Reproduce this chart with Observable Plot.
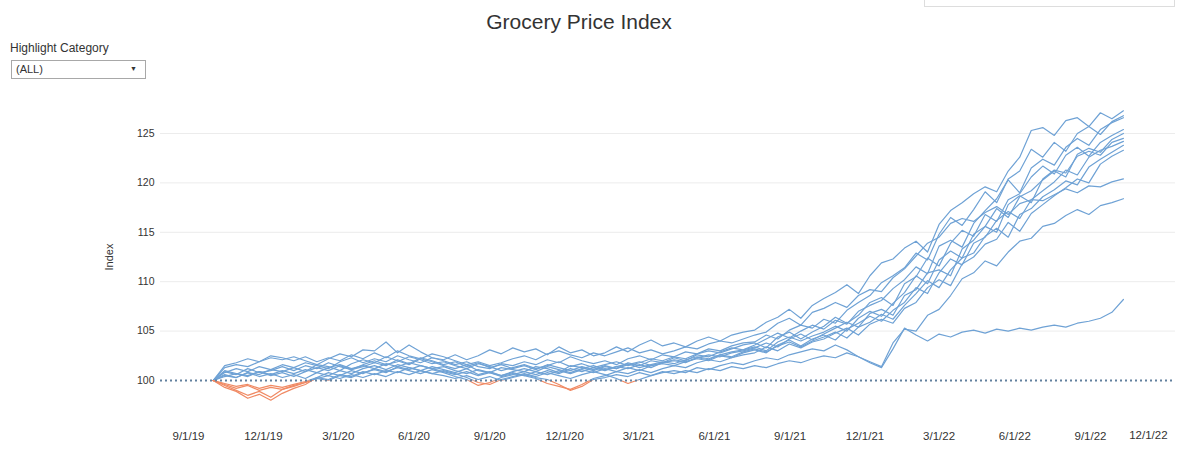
<!DOCTYPE html>
<html>
<head>
<meta charset="utf-8">
<script src="https://cdn.jsdelivr.net/npm/d3@7"></script>
<script src="https://cdn.jsdelivr.net/npm/@observablehq/plot@0.6"></script>
<style>
body{margin:0;background:#fff;font-family:"Liberation Sans",Arial,sans-serif;color:#333;width:1195px;height:459px;overflow:hidden;position:relative}
#title{position:absolute;left:579px;top:10px;transform:translateX(-50%);font-size:21px;color:#333;white-space:nowrap}
#topbox{position:absolute;left:924px;top:-2px;width:249px;height:7px;border:1px solid #ddd}
#hl{position:absolute;left:10px;top:41px;font-size:12px;color:#333}
#dd{position:absolute;left:11px;top:60px;width:133px;height:17px;border:1px solid #a8a8a8;font-size:11px;background:#fff}
#dd .t{position:absolute;left:4px;top:2px}
#dd .a{position:absolute;right:8px;top:4px;font-size:7px}
#ylab{position:absolute;left:109px;top:257px;transform:translate(-50%,-50%) rotate(-90deg);font-size:11px;color:#333}
#chart{position:absolute;left:0;top:100px}
</style>
</head>
<body>
<div id="title">Grocery Price Index</div>
<div id="topbox"></div>
<div id="hl">Highlight Category</div>
<div id="dd"><span class="t">(ALL)</span><span class="a">&#9660;</span></div>
<div id="ylab">Index</div>
<div id="chart"></div>
<script>
// ---- data ----
const startDate = "2019-10-01";   // first observation
const stepDays = 14;              // observations every two weeks
const categories = ["Meat","Dairy","Bakery","Frozen","Snacks","Beverages","Pantry","Deli","Produce","Seafood","Household","Personal Care"];

const meat = [100,101.3,101.6,101.4,101.9,102.3,102.1, 102.4,102.0,101.6,102.2,102.7,102.4,103.1, 103.0,103.9,102.8,103.6,102.9,102.3,102.1, 102.6,102.1,102.5,103.1,102.7,103.3, 102.9,103.2,102.6,103.4,102.8,103.1,102.5, 102.8,103.4,102.9,103.6,104.1,103.5, 103.8,103.4,104.0,104.4,104.0,104.6,104.9, 105.1,105.9,106.4,107.2,106.3,107.6, 108.3,108.9,109.7,108.8,110.6,111.9,112.3, 113.4,114.1,113.0,115.8,117.2,118.0, 118.9,119.6,119.1,121.2,122.6,125.3,125.6, 124.8,126.3,126.6,125.7,127.1,126.5,127.3];
const dairy = [100,100.8,101.2,100.9,101.4,101.1,101.6, 101.3,101.8,101.5,101.2,101.9,102.3,101.8, 102.2,101.9,102.5,102.1,101.8,102.3,102.0, 101.6,101.9,101.4,101.2,101.7,101.5, 101.9,101.6,102.1,101.8,102.4,102.0,101.7, 102.0,101.6,102.2,102.5,102.1,102.6, 102.4,102.9,102.7,103.2,103.0,103.5,103.8, 103.9,104.6,104.2,105.1,105.6,105.3, 106.2,105.8,107.1,107.9,108.6,109.9,110.6, 111.4,112.9,112.2,114.8,116.5,115.7, 117.3,119.1,118.0,120.4,121.2,123.4,122.6, 124.1,123.2,125.0,125.7,124.9,126.2,126.8];
const bakery = [100,100.5,100.3,100.8,100.6,101.1,100.9, 101.3,100.9,101.6,101.4,101.0,101.7,102.1, 101.8,102.4,102.0,101.6,102.2,101.9,101.5, 101.2,101.6,101.0,100.8,101.3,101.1, 100.9,101.4,101.2,100.8,101.5,101.3,101.0, 101.4,101.2,101.8,101.5,102.0,101.8, 102.3,102.0,102.6,102.4,102.9,103.3,103.1, 103.6,104.2,104.8,104.3,105.0,105.6, 105.2,106.1,105.7,107.0,107.6,108.1,109.3, 110.2,111.5,110.8,113.6,114.2,113.5, 115.9,117.2,118.4,120.3,119.0,121.5,122.4, 121.8,123.6,124.5,123.8,125.4,126.1,126.6];
const frozen = [100,100.9,100.6,101.2,100.8,101.0,101.4, 101.0,101.5,101.2,101.8,101.4,101.1,101.6, 102.0,101.6,101.9,102.4,102.1,101.7,101.9, 101.5,101.2,101.7,101.4,101.0,101.3, 101.6,101.2,101.5,101.9,101.4,101.7,101.3, 101.6,101.9,101.5,101.8,102.2,102.0, 102.4,102.2,102.7,103.0,102.8,103.2,103.6, 103.8,103.3,104.4,104.9,104.2,104.9, 105.5,106.4,105.8,106.6,107.9,108.4,107.6, 109.8,110.5,112.4,111.6,113.9,115.2, 114.6,116.8,116.1,118.3,118.9,120.6,121.7, 120.9,122.8,123.6,122.7,124.1,124.8,125.4];
const snacks = [100,100.4,100.7,100.5,100.9,100.6,101.0, 100.7,101.1,100.8,101.3,101.6,101.2,101.5, 101.2,101.7,101.4,101.8,101.5,101.2,101.4, 101.0,100.7,101.1,100.8,100.5,100.9, 101.2,100.9,101.4,101.1,100.8,101.2,101.5, 101.1,101.4,101.7,101.3,101.6,101.9, 101.7,102.1,102.4,102.2,102.6,102.9,103.1, 103.4,103.0,103.9,104.4,104.0,104.5, 104.9,105.5,105.0,106.3,107.0,106.5,107.8, 108.9,110.6,109.8,112.2,113.1,112.4, 114.8,115.6,117.4,116.5,118.6,119.2,120.3, 121.2,120.6,122.9,123.5,123.1,124.4,125.0];
const beverages = [100,101.0,100.7,100.4,100.9,100.5,100.8, 100.4,100.9,101.3,101.0,101.5,101.1,101.4, 101.8,101.5,102.1,101.7,102.3,102.0,101.6, 101.9,101.4,101.8,101.3,101.6,101.2, 101.5,101.1,101.6,101.3,101.0,101.4,101.1, 101.5,101.2,101.6,101.9,101.5,101.8, 102.1,101.9,102.3,102.6,102.4,102.8,103.0, 103.3,103.8,103.4,104.2,104.7,104.1, 104.7,105.3,105.9,105.4,106.8,107.2,106.6, 108.6,109.2,110.9,111.2,110.6,113.3, 114.2,115.6,115.0,117.8,118.7,118.0,120.4, 121.3,121.0,122.7,123.2,122.8,124.1,124.5];
const pantry = [100,100.6,100.3,100.8,100.4,100.7,100.3, 100.6,100.2,100.8,100.5,101.0,100.7,101.2, 101.5,101.1,101.6,101.3,101.0,101.4,101.1, 100.8,101.2,100.6,100.9,100.5,100.8, 100.5,100.9,100.6,101.0,100.7,101.1,100.8, 101.2,100.9,101.3,101.0,101.5,101.7, 101.5,101.9,102.2,102.0,102.5,102.3,102.8, 103.1,102.8,103.6,104.1,103.5,104.2, 104.6,104.1,105.2,105.8,106.5,106.0,107.1, 107.9,109.4,108.8,110.9,112.3,111.7, 113.9,114.5,116.2,117.1,116.4,118.3,119.2, 120.1,121.3,120.8,122.6,123.3,123.7,124.2];
const deli = [100,99.3,98.9,98.2,98.6,98.0,98.7, 99.2,99.6,100.3,100.8,100.5,101.0,100.7, 101.2,100.9,101.3,101.0,100.7,101.1,100.8, 100.4,100.1,99.5,99.8,100.3,100.6, 100.9,100.6,101.0,100.7,101.2,100.9,101.3, 101.0,101.4,101.2,101.6,101.3,101.8, 102.0,101.8,102.3,102.1,102.6,102.4,102.9, 103.2,102.9,103.5,103.9,103.4,104.0, 104.4,104.9,104.3,105.4,105.9,106.7,106.2, 107.6,108.8,110.1,109.4,111.2,112.4, 112.9,114.6,115.4,114.5,116.8,117.4,118.6, 119.3,120.2,119.8,121.6,122.4,123.1,123.8];
const produce = [100,99.6,99.2,99.5,99.0,99.3,99.1, 99.5,99.8,100.2,100.0,100.5,100.3,100.8, 101.1,100.8,101.4,101.1,101.5,101.2,100.9, 100.6,100.9,100.5,100.8,100.4,100.7, 100.5,100.2,99.7,99.4,99.1,99.6,100.2, 100.5,100.9,100.7,101.1,100.8,101.2, 101.5,101.3,101.8,102.1,101.9,102.3,102.6, 102.8,103.4,103.0,103.7,103.3,103.9, 104.2,104.8,105.3,104.6,105.7,106.2,105.8, 107.3,107.9,109.4,110.2,109.6,111.8, 112.5,113.8,114.3,116.0,115.1,116.9,117.8, 118.7,119.5,120.4,120.0,121.9,122.7,123.3];
const seafood = [100,101.5,101.8,102.2,101.9,102.5,102.3, 102.0,102.4,101.9,102.3,102.0,102.6,102.2, 102.8,102.3,103.0,102.5,102.2,102.7,102.4, 102.0,101.6,101.9,101.5,101.8,102.2, 102.5,102.1,102.7,103.0,102.6,102.3,102.8, 102.5,102.9,103.3,102.8,103.1,102.7, 103.0,103.4,103.2,103.7,104.0,103.8,104.2, 104.6,104.9,105.8,106.3,105.6,106.9, 107.3,107.9,107.4,108.6,109.2,109.0,110.4, 111.3,112.6,113.9,114.5,115.9,116.4, 116.1,117.0,117.6,116.8,117.9,118.3,118.2, 118.8,119.4,119.0,119.7,119.6,120.1,120.4];
const household = [100,99.7,99.4,99.6,99.2,99.5,99.3, 99.6,99.9,100.3,100.1,100.6,100.4,100.9, 100.6,101.0,100.8,101.3,101.0,100.7,101.0, 100.7,100.3,99.8,99.6,100.1,100.4, 100.7,100.4,100.8,100.5,100.2,100.6,100.9, 100.6,100.2,99.7,100.1,100.5,100.8, 101.0,100.8,101.3,101.1,101.5,101.8,101.6, 102.0,102.3,102.1,102.6,102.9,103.2, 103.0,103.6,103.1,102.4,101.9,101.4,103.8, 105.2,105.0,106.6,107.2,108.6,110.3, 110.9,112.1,111.6,113.0,114.1,114.4,115.6, 115.9,116.7,117.3,116.8,117.7,118.0,118.4];
const personalCare = [100,99.5,99.0,98.5,98.9,98.3,99.1, 99.4,99.8,100.2,100.5,100.2,100.6,100.3, 100.7,100.4,100.9,100.6,101.0,100.7,100.5, 100.2,100.5,100.1,100.4,100.0,100.3, 100.6,100.3,100.1,99.6,99.0,99.4,100.1, 100.3,100.6,100.4,100.8,100.5,100.9, 100.7,101.0,100.8,101.2,101.0,101.4,101.2, 101.5,101.3,101.7,102.0,101.8,102.2, 102.5,102.3,102.8,102.4,101.8,101.3,103.2, 105.3,104.6,104.0,104.7,104.4,104.9, 105.1,104.8,105.2,105.0,105.3,105.1,105.4, 105.6,105.4,105.8,106.0,106.3,106.9,108.2];

const seriesValues = [meat,dairy,bakery,frozen,snacks,beverages,pantry,deli,produce,seafood,household,personalCare];
const baseline = 100;
const yTicks = [100,105,110,115,120,125];
const gridValues = [105,110,115,120,125];
const xTickDates = ["2019-09-01","2019-12-01","2020-03-01","2020-06-01","2020-09-01","2020-12-01","2021-03-01","2021-06-01","2021-09-01","2021-12-01","2022-03-01","2022-06-01","2022-09-01"];
const xLastTick = ["2022-12-01"];
const xDomain = ["2019-09-01","2022-09-01"];

// ---- table ----
const start = new Date(startDate);
const rows = [];
categories.forEach((c, i) => {
  seriesValues[i].forEach((v, k) => {
    rows.push({category: c, date: d3.utcDay.offset(start, k * stepDays), value: v});
  });
});
const fmt = d => `${d.getUTCMonth() + 1}/${d.getUTCDate()}/${String(d.getUTCFullYear()).slice(2)}`;

const blue = "#6fa2d5";
const orange = "#f08a64";

const plot = Plot.plot({
  width: 1195,
  height: 359,
  marginLeft: 160,
  marginRight: 20,
  marginTop: 0,
  marginBottom: 31,
  style: {fontFamily: "'Liberation Sans', Arial, sans-serif", fontSize: "11px", color: "#333", background: "transparent"},
  x: {type: "utc", domain: xDomain.map(d => new Date(d)), range: [188, 1090]},
  y: {domain: [100, 125], range: [280, 33]},
  marks: [
    Plot.ruleY(gridValues, {stroke: "#ececec", strokeWidth: 1}),
    Plot.axisY({ticks: yTicks, tickSize: 0, tickPadding: 6, label: null, fontSize: 10.5}),
    Plot.axisX({ticks: xTickDates.map(d => new Date(d)), tickFormat: fmt, tickSize: 0, tickPadding: 3, label: null, fontSize: 11.5}),
    Plot.text(xLastTick.map(d => new Date(d)), {x: d => d, text: fmt, frameAnchor: "bottom", dy: 10, dx: -17, fontSize: 11.5, fill: "#333"}),
    Plot.line(rows, {x: "date", y: "value", z: "category", stroke: blue, strokeWidth: 1.2}),
    Plot.line(rows, {x: "date", y: "value", z: "category", stroke: orange, strokeWidth: 1.2}),
    Plot.ruleY([baseline], {stroke: "#62809e", strokeWidth: 2, strokeDasharray: "2,3"})
  ]
});

// clip the two line layers at the baseline
const ns = "http://www.w3.org/2000/svg";
let yb;
try { yb = plot.scale("y").apply(baseline); } catch (e) { yb = 280; }
const defs = document.createElementNS(ns, "defs");
function cp(id, y0, h) {
  const c = document.createElementNS(ns, "clipPath");
  c.setAttribute("id", id);
  const r = document.createElementNS(ns, "rect");
  r.setAttribute("x", 0); r.setAttribute("y", y0);
  r.setAttribute("width", 1195); r.setAttribute("height", h);
  c.appendChild(r); defs.appendChild(c);
}
cp("clipAbove", -50, yb + 50);
cp("clipBelow", yb, 400);
plot.insertBefore(defs, plot.firstChild);
const gA = plot.querySelector(`g[stroke="${blue}"]`);
const gB = plot.querySelector(`g[stroke="${orange}"]`);
if (gA) gA.setAttribute("clip-path", "url(#clipAbove)");
if (gB) gB.setAttribute("clip-path", "url(#clipBelow)");
document.getElementById("chart").appendChild(plot);
</script>
</body>
</html>
